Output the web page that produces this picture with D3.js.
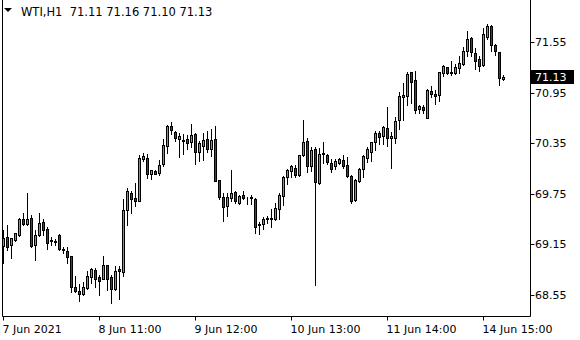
<!DOCTYPE html>
<html>
<head>
<meta charset="utf-8">
<script src="https://cdnjs.cloudflare.com/ajax/libs/d3/7.8.5/d3.min.js"></script>
<style>
	body { margin: 0; background: #fff; }
	svg { display: block; }
</style>
</head>
<body>
<div id="chart"></div>
<script>
// WTI H1 candles

var opens = [69.13, 69.24, 69.14, 69.20, 69.26, 69.45, 69.39, 69.46, 69.14, 69.26,
	69.42, 69.33, 69.20, 69.19, 69.26, 69.10, 69.07, 69.01, 68.64, 68.60,
	68.56, 68.63, 68.76, 68.85, 68.76, 68.74, 68.90, 68.76, 68.62, 68.86,
	68.82, 69.56, 69.76, 69.70, 69.67, 70.16, 70.18, 69.98, 70.02, 70.00,
	70.10, 70.32, 70.55, 70.48, 70.40, 70.39, 70.40, 70.36, 70.46, 70.25,
	70.32, 70.40, 70.28, 70.40, 69.91, 69.71, 69.60, 69.70, 69.77, 69.64,
	69.74, 69.70, 69.71, 69.69, 69.39, 69.39, 69.45, 69.46, 69.45, 69.57,
	69.72, 69.95, 70.02, 70.06, 69.97, 70.21, 70.38, 70.08, 70.28, 69.88,
	70.23, 70.21, 70.12, 70.08, 70.12, 70.15, 70.09, 69.96, 69.68, 69.90,
	70.05, 70.18, 70.25, 70.36, 70.47, 70.43, 70.53, 70.41, 70.41, 70.62,
	70.90, 70.91, 71.19, 71.10, 70.76, 70.78, 70.65, 70.97, 70.93, 70.92,
	71.18, 71.25, 71.20, 71.18, 71.24, 71.29, 71.44, 71.60, 71.42, 71.35,
	71.28, 71.61, 71.74, 71.51, 71.43, 71.11];

var highs = [69.32, 69.38, 69.23, 69.29, 69.46, 69.52, 69.76, 69.50, 69.32, 69.52,
	69.45, 69.36, 69.24, 69.21, 69.27, 69.12, 69.12, 69.01, 68.77, 68.68,
	68.70, 68.84, 68.87, 68.87, 68.79, 69.01, 68.91, 68.79, 68.89, 68.89,
	69.69, 69.82, 69.78, 69.88, 70.21, 70.23, 70.22, 70.03, 70.03, 70.15,
	70.40, 70.57, 70.60, 70.50, 70.47, 70.46, 70.45, 70.58, 70.47, 70.38,
	70.47, 70.49, 70.52, 70.55, 69.91, 69.76, 69.76, 70.03, 69.78, 69.74,
	69.78, 69.71, 69.74, 69.70, 69.42, 69.48, 69.49, 69.57, 69.64, 69.76,
	69.96, 70.05, 70.09, 70.09, 70.21, 70.63, 70.41, 70.31, 70.30, 70.29,
	70.37, 70.22, 70.16, 70.16, 70.18, 70.21, 70.19, 69.97, 69.93, 70.06,
	70.21, 70.30, 70.37, 70.49, 70.49, 70.55, 70.78, 70.48, 70.66, 70.96,
	71.06, 71.19, 71.20, 71.21, 70.80, 70.80, 70.99, 71.03, 70.98, 71.20,
	71.28, 71.25, 71.32, 71.29, 71.38, 71.49, 71.68, 71.61, 71.48, 71.38,
	71.72, 71.76, 71.75, 71.53, 71.43, 71.16];

var lows = [68.93, 69.08, 68.99, 69.19, 69.25, 69.38, 69.38, 69.12, 68.97, 69.25,
	69.26, 69.10, 69.14, 69.14, 69.08, 69.05, 68.93, 68.58, 68.58, 68.48,
	68.55, 68.62, 68.69, 68.65, 68.55, 68.74, 68.61, 68.45, 68.61, 68.50,
	68.78, 69.38, 69.52, 69.60, 69.67, 70.14, 69.94, 69.93, 69.98, 69.97,
	70.08, 70.23, 70.46, 70.38, 70.19, 70.22, 70.28, 70.30, 70.10, 70.14,
	70.15, 70.24, 70.20, 69.90, 69.69, 69.43, 69.49, 69.67, 69.64, 69.63,
	69.69, 69.63, 69.63, 69.29, 69.27, 69.33, 69.40, 69.36, 69.44, 69.45,
	69.62, 69.87, 69.95, 69.95, 69.96, 70.20, 70.01, 70.02, 68.67, 69.87,
	70.12, 70.10, 70.01, 70.05, 70.10, 70.06, 69.95, 69.64, 69.67, 69.89,
	69.95, 70.13, 70.14, 70.27, 70.34, 70.34, 70.32, 70.06, 70.35, 70.52,
	70.63, 70.80, 70.83, 70.71, 70.71, 70.71, 70.65, 70.90, 70.82, 70.85,
	71.15, 71.17, 71.16, 71.17, 71.18, 71.28, 71.38, 71.38, 71.23, 71.21,
	71.26, 71.59, 71.44, 71.40, 71.04, 71.10];

var closes = [69.22, 69.12, 69.22, 69.28, 69.45, 69.39, 69.45, 69.13, 69.26, 69.40,
	69.32, 69.17, 69.19, 69.18, 69.09, 69.08, 69.00, 68.64, 68.60, 68.56,
	68.64, 68.77, 68.86, 68.74, 68.72, 68.91, 68.74, 68.62, 68.84, 68.83,
	69.56, 69.78, 69.69, 69.67, 70.18, 70.20, 69.98, 70.03, 69.99, 70.09,
	70.33, 70.55, 70.51, 70.41, 70.43, 70.38, 70.35, 70.45, 70.25, 70.35,
	70.39, 70.28, 70.39, 69.90, 69.71, 69.59, 69.71, 69.76, 69.66, 69.72,
	69.70, 69.70, 69.70, 69.36, 69.38, 69.45, 69.46, 69.45, 69.58, 69.74,
	69.95, 70.03, 70.08, 69.97, 70.21, 70.36, 70.08, 70.27, 69.89, 70.22,
	70.22, 70.13, 70.05, 70.14, 70.16, 70.08, 69.96, 69.67, 69.91, 70.05,
	70.20, 70.28, 70.36, 70.47, 70.42, 70.54, 70.41, 70.43, 70.61, 70.91,
	70.92, 71.17, 71.08, 70.74, 70.79, 70.74, 70.98, 70.93, 70.91, 71.19,
	71.26, 71.18, 71.18, 71.25, 71.30, 71.44, 71.59, 71.43, 71.33, 71.27,
	71.64, 71.74, 71.51, 71.44, 71.12, 71.13];

var priceTicks = [68.55, 69.15, 69.75, 70.35, 70.95, 71.55];
var timeTickBars = [0, 24, 48, 72, 96, 120];
var timeTickLabels = ["7 Jun 2021", "8 Jun 11:00", "9 Jun 12:00", "10 Jun 13:00", "11 Jun 14:00", "14 Jun 15:00"];
var symbol = "WTI,H1";

function drawChart() {
	var w = 580,
		h = 340,
		left = 2.5,
		right = 530.5,
		bottom = 316.5,
		barStep = 4,
		font = "DejaVu Sans",
		last = closes.length - 1;

	var bars = opens.map(function(o, i) {
		return {i: i, o: o, h: highs[i], l: lows[i], c: closes[i]};
	});

	var x = d3.scaleLinear()
		.domain([0, 1])
		.range([3.5, 3.5 + barStep]);

	var y = d3.scaleLinear()
		.domain([68.55, 71.55])
		.range([295, 42]);

	var svg = d3.select("#chart")
		.append("svg")
		.attr("width", w)
		.attr("height", h)
		.style("background", "#fff");

	// frame
	svg.append("path")
		.attr("d", "M" + left + ",0V" + bottom + "H" + right + "V0")
		.attr("fill", "none")
		.attr("stroke", "#000")
		.attr("stroke-width", 1);

	var plot = svg.append("g");

	// wicks
	plot.selectAll("line.wick")
		.data(bars)
		.enter().append("line")
		.attr("class", "wick")
		.attr("x1", function(d) { return x(d.i); })
		.attr("x2", function(d) { return x(d.i); })
		.attr("y1", function(d) { return Math.round(y(d.h)); })
		.attr("y2", function(d) { return Math.round(y(d.l)) + 1; })
		.attr("stroke", "#000")
		.attr("stroke-width", 1);

	// bodies
	plot.selectAll("rect.body")
		.data(bars)
		.enter().append("rect")
		.attr("class", "body")
		.attr("x", function(d) { return x(d.i) - 1; })
		.attr("y", function(d) { return Math.round(y(Math.max(d.o, d.c))) + 0.5; })
		.attr("width", 2)
		.attr("height", function(d) {
			return Math.max(0, Math.round(y(Math.min(d.o, d.c))) - Math.round(y(Math.max(d.o, d.c))));
		})
		.attr("fill", function(d) {
			return d.c >= d.o ? "#32cd32" : "#e00000";
		})
		.attr("stroke", "#000")
		.attr("stroke-width", 1);

	// price axis
	var yAxis = svg.append("g");
	yAxis.selectAll("line")
		.data(priceTicks)
		.enter().append("line")
		.attr("x1", right)
		.attr("x2", right + 4)
		.attr("y1", function(d) { return Math.round(y(d)) + 0.5; })
		.attr("y2", function(d) { return Math.round(y(d)) + 0.5; })
		.attr("stroke", "#000");
	yAxis.selectAll("text")
		.data(priceTicks)
		.enter().append("text")
		.attr("x", 535)
		.attr("y", function(d) { return y(d) + 4; })
		.text(function(d) { return d.toFixed(2); })
		.attr("font-family", font)
		.attr("font-size", "11px")
		.attr("fill", "#000");

	// last price marker
	var lastY = y(closes[last]);
	svg.append("rect")
		.attr("x", 531)
		.attr("y", Math.round(lastY) - 7)
		.attr("width", 43)
		.attr("height", 14)
		.attr("fill", "#000");
	svg.append("text")
		.attr("x", 535)
		.attr("y", lastY + 4)
		.text(closes[last].toFixed(2))
		.attr("font-family", font)
		.attr("font-size", "11px")
		.attr("fill", "#fff");

	// time axis
	var xAxis = svg.append("g");
	xAxis.selectAll("line")
		.data(timeTickBars)
		.enter().append("line")
		.attr("x1", function(d) { return x(d); })
		.attr("x2", function(d) { return x(d); })
		.attr("y1", bottom)
		.attr("y2", bottom + 4)
		.attr("stroke", "#000");
	xAxis.selectAll("text")
		.data(timeTickBars)
		.enter().append("text")
		.attr("x", function(d) { return x(d) - 1; })
		.attr("y", 333)
		.text(function(d, i) { return timeTickLabels[i]; })
		.attr("font-family", font)
		.attr("font-size", "11px")
		.attr("fill", "#000");

	// header
	svg.append("path")
		.attr("d", "M4,8H12L8,12Z")
		.attr("fill", "#000");
	svg.append("text")
		.attr("x", 21)
		.attr("y", 16)
		.text(symbol + "  " + [opens[last], highs[last], lows[last], closes[last]].map(function(v) {
			return v.toFixed(2);
		}).join(" "))
		.attr("font-family", font)
		.attr("font-size", "11.5px")
		.attr("xml:space", "preserve")
		.style("white-space", "pre")
		.attr("fill", "#000");
}

drawChart();
</script>
</body>
</html>
